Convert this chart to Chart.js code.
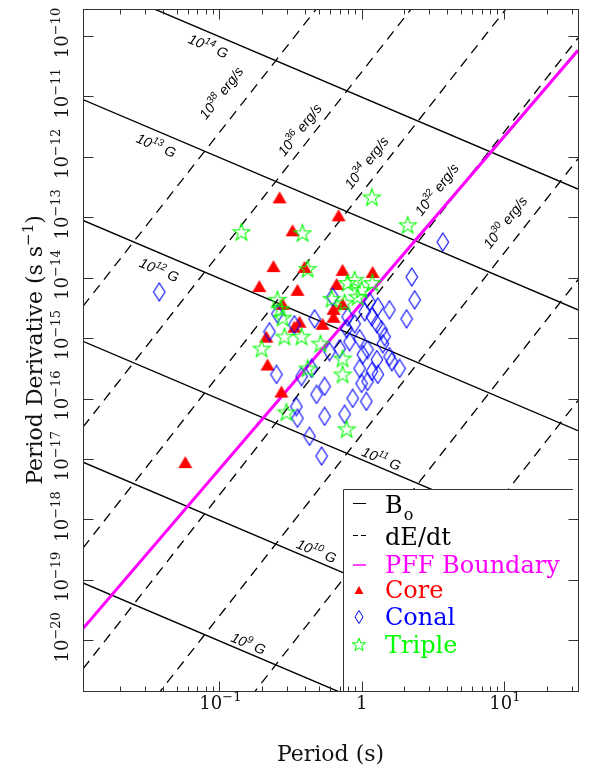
<!DOCTYPE html>
<html>
<head>
<meta charset="utf-8">
<script src="https://cdn.jsdelivr.net/npm/chart.js@4.4.1/dist/chart.umd.min.js"></script>
<style>
  html, body { margin: 0; padding: 0; background: #fff; }
  #wrap { width: 592px; height: 769px; }
</style>
</head>
<body>
<div id="wrap"><canvas id="ppdot" width="592" height="769"></canvas></div>
<script>
// Period (s) and period derivative (s/s)
const corePeriod = [0.265, 0.689, 0.327, 0.240, 0.397, 0.735, 1.195, 0.191, 0.354, 0.667, 0.278,
	0.735, 0.635, 0.635, 0.366, 0.337, 0.531, 0.214, 0.218, 0.273, 0.0576];
const corePdot = [2.14e-13, 1.08e-13, 6.1e-14, 1.56e-14, 1.51e-14, 1.35e-14, 1.25e-14, 7.3e-15, 6.3e-15, 7.9e-15, 3.7e-15,
	3.7e-15, 3.06e-15, 2.26e-15, 1.87e-15, 1.55e-15, 1.73e-15, 1.06e-15, 3.66e-16, 1.31e-16, 8.9e-18];

const conalPeriod = [0.0378, 3.72, 2.25, 2.36, 2.07, 1.57, 0.625, 0.467, 0.225, 0.256, 0.337, 0.784, 1.05,
	1.18, 1.28, 1.38, 1.45, 1.14, 1.30, 0.968, 0.823, 0.700, 0.595, 1.10, 1.02, 1.28, 1.57, 1.85, 0.968,
	1.18, 0.252, 0.378, 0.445, 0.549, 0.482, 0.865, 1.10, 1.30, 1.08, 0.348, 0.354, 0.549, 0.759, 0.430,
	0.523, 1.63, 1.00, 0.797, 0.893, 1.41];
const conalPdot = [5.83e-15, 3.89e-14, 1.03e-14, 4.31e-15, 2.09e-15, 2.95e-15, 4.83e-15, 2.09e-15, 1.28e-15, 2.53e-15, 1.67e-15, 1.43e-15, 2.73e-15,
	2.26e-15, 1.73e-15, 1.38e-15, 1.06e-15, 3.99e-15, 3.30e-15, 9.8e-16, 8.75e-16, 6.7e-16, 6.0e-16, 6.47e-16, 5.35e-16, 4.43e-16, 4.96e-16, 3.15e-16, 3.15e-16,
	2.81e-16, 2.51e-16, 2.32e-16, 3.15e-16, 1.59e-16, 1.17e-16, 1.01e-16, 1.92e-16, 2.51e-16, 9.0e-17, 7.4e-17, 4.72e-17, 5.09e-17, 5.5e-17, 2.38e-17,
	1.12e-17, 4.1e-16, 1.78e-16, 2.26e-15, 1.73e-15, 8.1e-16];

const triplePeriod = [0.143, 0.384, 1.18, 2.11, 0.417, 0.256, 0.269, 0.278, 0.287, 0.378, 0.198, 0.514,
	0.615, 0.797, 1.00, 1.19, 0.759, 0.937, 0.417, 0.735, 0.735, 0.296, 0.784, 0.893];
const triplePdot = [5.69e-14, 5.47e-14, 2.14e-13, 7.41e-14, 1.40e-14, 4.31e-15, 3.06e-15, 2.18e-15, 1.06e-15, 1.06e-15, 6.7e-16, 8.1e-16,
	4.48e-15, 8.2e-15, 6.3e-15, 8.2e-15, 3.85e-15, 4.83e-15, 3.15e-16, 4.6e-16, 2.51e-16, 5.93e-17, 3.11e-17, 9.2e-15];

// reference lines
const bFieldExp = [9, 10, 11, 12, 13, 14];        // log10 B (G)
const edotExp = [38, 36, 34, 32, 30, 28, 26, 24, 22]; // log10 dE/dt (erg/s)
const edotLabelExp = [38, 36, 34, 32, 30];
const pffCoef = 3.8e-15;                           // PFF: Pdot = c * P^(11/4)

// axis range and ticks
const xMin = 0.011, xMax = 33.2;
const yMin = 1.45e-21, yMax = 2.8e-10;
const xTickExp = [-1, 0, 1];
const yTickExp = [-10, -11, -12, -13, -14, -15, -16, -17, -18, -19, -20];

// where the line labels sit (P, Pdot of label centre)
const bLabelAt = [[0.16, 8.9e-21], [0.482, 3.02e-19], [1.38, 1.02e-17], [0.0378, 1.35e-14], [0.036, 1.55e-12], [0.0837, 6.84e-11]];
const edotLabelAt = [[0.103, 1.15e-11], [0.366, 2.82e-12], [1.08, 8.1e-13], [3.37, 2.9e-13], [10.2, 8.3e-14]];

const K_EDOT = 4 * Math.PI * Math.PI * 1e45;
const B_CONST = 3.2e19;
const bLine = (e, p) => Math.pow(Math.pow(10, e) / B_CONST, 2) / p;
const edotLine = (e, p) => Math.pow(10, e) * p * p * p / K_EDOT;
const pffLine = (p) => pffCoef * Math.pow(p, 2.75);

const RED = '#ff0000', BLUE = '#0000ff', GREEN = '#00ff00', MAGENTA = '#ff00ff';

// marker shapes
function triPath(g, cx, cy, w, h) {
	g.beginPath();
	g.moveTo(cx, cy - h / 2);
	g.lineTo(cx + w / 2, cy + h / 2);
	g.lineTo(cx - w / 2, cy + h / 2);
	g.closePath();
}
function diamondPath(g, cx, cy, w, h) {
	g.beginPath();
	g.moveTo(cx, cy - h / 2);
	g.lineTo(cx + w / 2, cy);
	g.lineTo(cx, cy + h / 2);
	g.lineTo(cx - w / 2, cy);
	g.closePath();
}
function starPath(g, cx, cy, r) {
	const ri = r * 0.4;
	g.beginPath();
	for (let i = 0; i < 10; i++) {
		const a = -Math.PI / 2 + i * Math.PI / 5;
		const rr = i % 2 ? ri : r;
		const px = cx + rr * Math.cos(a), py = cy + rr * Math.sin(a);
		i ? g.lineTo(px, py) : g.moveTo(px, py);
	}
	g.closePath();
}
function marker(w, h, draw) {
	const c = document.createElement('canvas');
	c.width = w;
	c.height = h;
	draw(c.getContext('2d'));
	return c;
}
const triImg = marker(16, 14, (g) => { triPath(g, 8, 7, 14, 12); g.fillStyle = RED; g.fill(); });
const diaImg = marker(14, 20, (g) => { diamondPath(g, 7, 10, 11.5, 18); g.strokeStyle = BLUE; g.lineWidth = 1.1; g.stroke(); });
const starImg = marker(20, 20, (g) => { starPath(g, 10, 10.5, 9); g.strokeStyle = GREEN; g.lineWidth = 1.1; g.stroke(); });

const zip = (xs, ys) => xs.map((x, i) => ({ x: x, y: ys[i] }));
const ends = (f) => [{ x: xMin, y: f(xMin) }, { x: xMax, y: f(xMax) }];

const datasets = [
	{ label: 'Triple', data: zip(triplePeriod, triplePdot), pointStyle: starImg, pointRadius: 8, order: 0 },
	{ label: 'Conal', data: zip(conalPeriod, conalPdot), pointStyle: diaImg, pointRadius: 8, order: 1 },
	{ label: 'Core', data: zip(corePeriod, corePdot), pointStyle: triImg, pointRadius: 8, order: 2 },
	{ label: 'PFF', data: ends(pffLine), showLine: true, pointRadius: 0, borderColor: MAGENTA, borderWidth: 3, order: 3 },
];
edotExp.forEach((e) => {
	datasets.push({ data: ends((p) => edotLine(e, p)), showLine: true, pointRadius: 0,
		borderColor: '#000', borderWidth: 1.3, borderDash: [10, 7], order: 4 });
});
bFieldExp.forEach((e) => {
	datasets.push({ data: ends((p) => bLine(e, p)), showLine: true, pointRadius: 0,
		borderColor: '#000', borderWidth: 1.4, order: 5 });
});

// text with a superscript, centred on (x, y)
function powText(ctx, x, y, angle, base, sup, tail, font, supFont, rise, baseOff) {
	ctx.save();
	ctx.translate(x, y);
	ctx.rotate(angle);
	ctx.textAlign = 'left';
	ctx.textBaseline = 'alphabetic';
	ctx.font = font;
	const w1 = ctx.measureText(base).width;
	const w3 = tail ? ctx.measureText(tail).width : 0;
	ctx.font = supFont;
	const w2 = sup ? ctx.measureText(sup).width : 0;
	let cx = -(w1 + w2 + w3) / 2;
	ctx.font = font;
	ctx.fillText(base, cx, baseOff);
	cx += w1;
	if (sup) {
		ctx.font = supFont;
		ctx.fillText(sup, cx, baseOff - rise);
		cx += w2;
	}
	if (tail) {
		ctx.font = font;
		ctx.fillText(tail, cx, baseOff);
	}
	ctx.restore();
}

const whiteBg = {
	id: 'whiteBg',
	beforeDraw(chart) {
		const ctx = chart.ctx;
		ctx.save();
		ctx.fillStyle = '#fff';
		ctx.fillRect(0, 0, chart.width, chart.height);
		ctx.restore();
	},
};

const decorations = {
	id: 'decorations',
	afterDatasetsDraw(chart) {
		const { ctx, chartArea: a, scales: { x, y } } = chart;
		const serif = '"DejaVu Serif", serif';
		const lblFont = 'italic 14px "Liberation Sans", sans-serif';
		const lblSup = 'italic 10px "Liberation Sans", sans-serif';
		ctx.fillStyle = '#000';

		// B-field labels
		bFieldExp.forEach((e, i) => {
			const ang = Math.atan2(y.getPixelForValue(bLine(e, 1)) - y.getPixelForValue(bLine(e, 0.1)),
				x.getPixelForValue(1) - x.getPixelForValue(0.1));
			const [lp, ld] = bLabelAt[i];
			powText(ctx, x.getPixelForValue(lp), y.getPixelForValue(ld), ang, '10', String(e), ' G', lblFont, lblSup, 6, 5);
		});
		// dE/dt labels
		edotLabelExp.forEach((e, i) => {
			const ang = Math.atan2(y.getPixelForValue(edotLine(e, 1)) - y.getPixelForValue(edotLine(e, 0.1)),
				x.getPixelForValue(1) - x.getPixelForValue(0.1));
			const [lp, ld] = edotLabelAt[i];
			powText(ctx, x.getPixelForValue(lp), y.getPixelForValue(ld), ang, '10', String(e), ' erg/s', lblFont, lblSup, 6, 5);
		});

		// legend box
		const lx = 343, ly = 489;
		ctx.save();
		ctx.fillStyle = '#fff';
		ctx.fillRect(lx, ly, a.right - lx, a.bottom - ly);
		ctx.strokeStyle = '#333';
		ctx.lineWidth = 1;
		ctx.beginPath();
		ctx.moveTo(lx + 0.5, a.bottom);
		ctx.lineTo(lx + 0.5, ly + 0.5);
		ctx.lineTo(a.right - 5, ly + 0.5);
		ctx.stroke();

		const rows = [513, 545, 573, 598, 625, 653];
		const sx = 359, tx = 385;
		const legFont = '24px ' + serif;
		ctx.font = legFont;
		ctx.textBaseline = 'alphabetic';
		ctx.textAlign = 'left';
		// B_o
		ctx.strokeStyle = '#000';
		ctx.lineWidth = 1;
		ctx.beginPath(); ctx.moveTo(353, rows[0] - 9.5); ctx.lineTo(366, rows[0] - 9.5); ctx.stroke();
		ctx.fillStyle = '#000';
		ctx.fillText('B', tx, rows[0]);
		const bw = ctx.measureText('B').width;
		ctx.font = '16px ' + serif;
		ctx.fillText('o', tx + bw + 1, rows[0] + 7);
		// dE/dt
		ctx.font = legFont;
		ctx.beginPath(); ctx.moveTo(353, rows[1] - 9.5); ctx.lineTo(358, rows[1] - 9.5);
		ctx.moveTo(361, rows[1] - 9.5); ctx.lineTo(366, rows[1] - 9.5); ctx.stroke();
		ctx.fillText('dE/dt', tx, rows[1]);
		// PFF
		ctx.strokeStyle = MAGENTA;
		ctx.lineWidth = 1.5;
		ctx.beginPath(); ctx.moveTo(353, rows[2] - 8); ctx.lineTo(366, rows[2] - 8); ctx.stroke();
		ctx.fillStyle = MAGENTA;
		ctx.fillText('PFF Boundary', tx, rows[2]);
		// Core
		triPath(ctx, sx, rows[3] - 8, 9, 8);
		ctx.fillStyle = RED;
		ctx.fill();
		ctx.fillText('Core', tx, rows[3]);
		// Conal
		diamondPath(ctx, sx, rows[4] - 8, 8, 13);
		ctx.strokeStyle = BLUE;
		ctx.lineWidth = 1;
		ctx.stroke();
		ctx.fillStyle = BLUE;
		ctx.fillText('Conal', tx, rows[4]);
		// Triple
		starPath(ctx, sx, rows[5] - 8, 7);
		ctx.strokeStyle = GREEN;
		ctx.stroke();
		ctx.fillStyle = GREEN;
		ctx.fillText('Triple', tx, rows[5]);
		ctx.restore();

		// frame and ticks
		ctx.save();
		ctx.strokeStyle = '#333';
		ctx.lineWidth = 1;
		const L = Math.round(a.left) + 0.5, R = Math.round(a.right) + 0.5;
		const T = Math.round(a.top) + 0.5, B = Math.round(a.bottom) + 0.5;
		ctx.strokeRect(L, T, R - L, B - T);
		ctx.beginPath();
		for (let d = -2; d <= 1; d++) {
			for (let k = 1; k <= 9; k++) {
				const v = k * Math.pow(10, d);
				if (v < xMin || v > xMax) continue;
				const px = Math.round(x.getPixelForValue(v)) + 0.5;
				const len = k === 1 ? 10 : 5;
				ctx.moveTo(px, B); ctx.lineTo(px, B - len);
				ctx.moveTo(px, T); ctx.lineTo(px, T + len);
			}
		}
		yTickExp.forEach((e) => {
			const py = Math.round(y.getPixelForValue(Math.pow(10, e))) + 0.5;
			ctx.moveTo(L, py); ctx.lineTo(L + 10, py);
			ctx.moveTo(R, py); ctx.lineTo(R - 10, py);
		});
		ctx.stroke();
		ctx.restore();

		// tick labels
		ctx.save();
		ctx.fillStyle = '#111';
		const tickFont = '18px ' + serif, tickSup = '13px ' + serif;
		xTickExp.forEach((e) => {
			const px = x.getPixelForValue(Math.pow(10, e));
			if (e === 0) powText(ctx, px, 709, 0, '1', '', '', tickFont, tickSup, 0, 0);
			else powText(ctx, px + 1, 709, 0, '10', e < 0 ? '\u2212' + (-e) : String(e), '', tickFont, tickSup, 8, 0);
		});
		yTickExp.forEach((e) => {
			const py = y.getPixelForValue(Math.pow(10, e));
			powText(ctx, 68, py - 3, -Math.PI / 2, '10', '\u2212' + (-e), '', tickFont, tickSup, 8, 0);
		});

		// axis titles
		const titleFont = '22px ' + serif, titleSup = '15px ' + serif;
		powText(ctx, (a.left + a.right) / 2, 761, 0, 'Period (s)', '', '', titleFont, titleSup, 0, 0);
		powText(ctx, 42, (a.top + a.bottom) / 2, -Math.PI / 2, 'Period Derivative (s s', '\u22121', ')', titleFont, titleSup, 9, 0);
		ctx.restore();
	},
};

new Chart(document.getElementById('ppdot'), {
	type: 'scatter',
	data: { datasets: datasets },
	options: {
		responsive: false,
		animation: false,
		layout: { padding: { left: 83, right: 14, top: 6, bottom: 78 } },
		plugins: {
			legend: { display: false },
			tooltip: { enabled: false },
		},
		scales: {
			x: { type: 'logarithmic', min: xMin, max: xMax, display: false },
			y: { type: 'logarithmic', min: yMin, max: yMax, display: false },
		},
	},
	plugins: [whiteBg, decorations],
});
</script>
</body>
</html>
